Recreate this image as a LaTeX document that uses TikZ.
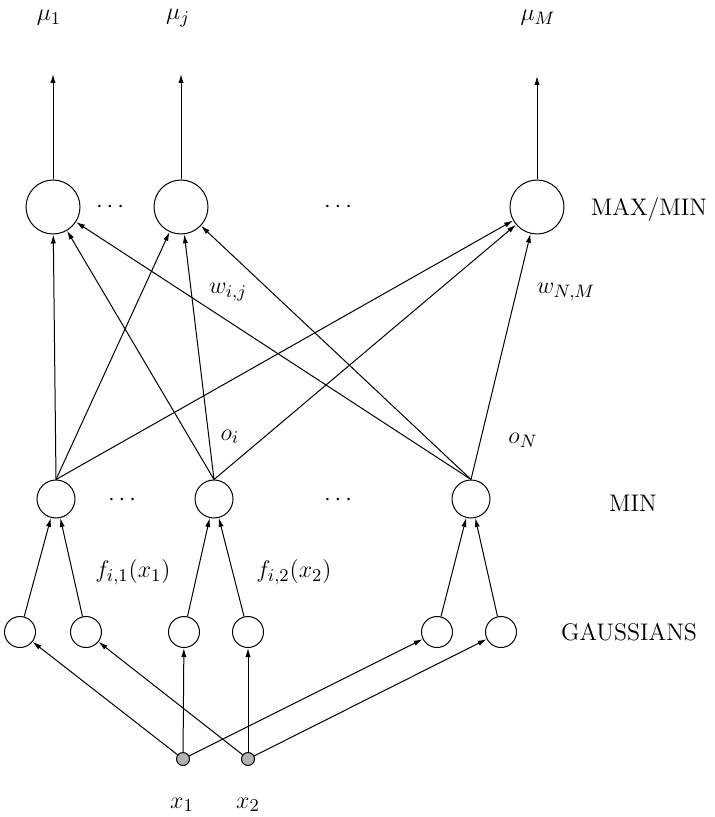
\documentclass[tikz,border=0pt]{standalone}
\usepackage{amsmath}
\usetikzlibrary{arrows.meta}
\DeclareMathSizes{12}{12}{9}{7}

\begin{document}
\begin{tikzpicture}[x=0.5pt, y=-0.5pt, line width=0.5pt, font=\large,
    maxnode/.style={circle, draw, minimum size=27pt, inner sep=0pt},
    minnode/.style={circle, draw, minimum size=19pt, inner sep=0pt},
    gaussnode/.style={circle, draw, minimum size=15.5pt, inner sep=0pt},
    innode/.style={circle, draw, fill=gray!60, minimum size=6.5pt, inner sep=0pt},
    link/.style={-{Latex[length=4.5pt, width=2.6pt]}}]
    \useasboundingbox (0,0) rectangle (714,817);

    % Output layer (MAX/MIN)
    \node[maxnode] (max1) at (53,207) {};
    \node[maxnode] (maxj) at (181,207) {};
    \node[maxnode] (maxM) at (537,207) {};
    \node (dotsA) at (112,207) {$\cdots$};
    \node (dotsB) at (340,207) {$\cdots$};
    \node (lblmax) at (649,210) {MAX/MIN};

    % Outputs
    \coordinate (out1) at (53,74);
    \coordinate (outj) at (181,74);
    \coordinate (outM) at (537,76);
    \draw[link] (max1) -- (out1);
    \draw[link] (maxj) -- (outj);
    \draw[link] (maxM) -- (outM);
    \node (mu1) at (49,18) {$\mu_1$};
    \node (muj) at (178,18) {$\mu_j$};
    \node (muM) at (538,18) {$\mu_M$};

    % Rule layer (MIN)
    \node[minnode] (min1) at (56,499) {};
    \node[minnode] (mini) at (214,499) {};
    \node[minnode] (minN) at (471,499) {};
    \node (dotsC) at (124,500) {$\cdots$};
    \node (dotsD) at (340,500) {$\cdots$};
    \node (lblmin) at (633,503) {MIN};

    % Weights from rules to outputs
    \draw[link] (min1.north) -- (max1);
    \draw[link] (min1.north) -- (maxj);
    \draw[link] (min1.north) -- (maxM);
    \draw[link] (mini.north) -- (max1);
    \draw[link] (mini.north) -- (maxj);
    \draw[link] (mini.north) -- (maxM);
    \draw[link] (minN.north) -- (max1);
    \draw[link] (minN.north) -- (maxj);
    \draw[link] (minN.north) -- (maxM);
    \node (wij) at (228,292) {$w_{i,j}$};
    \node (wNM) at (566,292) {$w_{N,M}$};
    \node (oi) at (230,437) {$o_i$};
    \node (oN) at (523,440) {$o_N$};

    % Membership layer (GAUSSIANS)
    \node[gaussnode] (g1) at (20,632) {};
    \node[gaussnode] (g2) at (86,632) {};
    \node[gaussnode] (g3) at (184,632) {};
    \node[gaussnode] (g4) at (248,632) {};
    \node[gaussnode] (g5) at (437,632) {};
    \node[gaussnode] (g6) at (501,632) {};
    \node (lblgauss) at (629,632) {GAUSSIANS};

    % Memberships into rules
    \draw[link] (g1) -- (min1);
    \draw[link] (g2) -- (min1);
    \draw[link] (g3) -- (mini);
    \draw[link] (g4) -- (mini);
    \draw[link] (g5) -- (minN);
    \draw[link] (g6) -- (minN);
    \node (fi1) at (133,572) {$f_{i,1}(x_1)$};
    \node (fi2) at (294,572) {$f_{i,2}(x_2)$};

    % Inputs
    \node[innode] (x1) at (183,759) {};
    \node[innode] (x2) at (248,759) {};
    \draw[link] (x1) -- (g1);
    \draw[link] (x1) -- (g3);
    \draw[link] (x1) -- (g5);
    \draw[link] (x2) -- (g2);
    \draw[link] (x2) -- (g4);
    \draw[link] (x2) -- (g6);
    \node (lblx1) at (182,805) {$x_1$};
    \node (lblx2) at (248,805) {$x_2$};
\end{tikzpicture}
\end{document}
